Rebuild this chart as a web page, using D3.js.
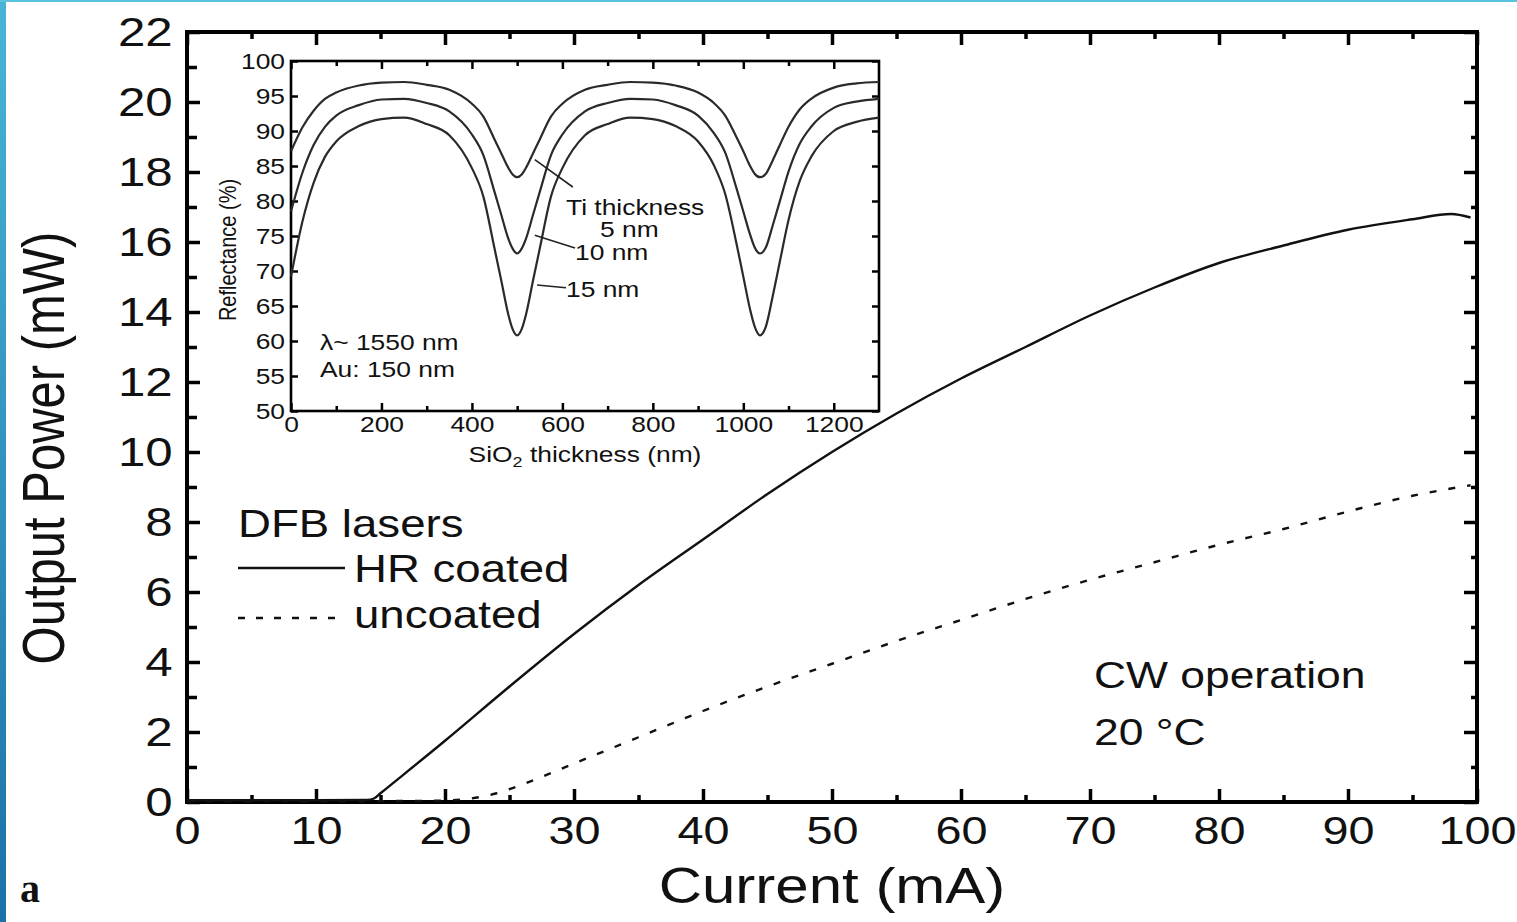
<!DOCTYPE html>
<html>
<head>
<meta charset="utf-8">
<script src="https://cdn.jsdelivr.net/npm/d3@7"></script>
<style>
  body { margin: 0; background: #fff; }
  svg { display: block; font-family: "Liberation Sans", Arial, sans-serif; }
</style>
</head>
<body>
<svg id="chart" width="1517" height="922"></svg>
<script>
// ---- data ----
const hrCurrent = [0, 5, 10, 14, 14.5, 15, 20, 25, 30, 35, 40, 45, 50, 55, 60, 65, 70, 75, 80, 85, 90, 95, 98, 99.5];
const hrPower   = [0.05, 0.05, 0.05, 0.06, 0.1, 0.25, 1.75, 3.3, 4.8, 6.2, 7.5, 8.8, 10.0, 11.1, 12.1, 13.0, 13.9, 14.7, 15.4, 15.9, 16.35, 16.65, 16.8, 16.7];

const ucCurrent = [0, 10, 20, 22, 24, 26, 30, 35, 40, 45, 50, 55, 60, 65, 70, 75, 80, 85, 90, 95, 99.5];
const ucPower   = [0.02, 0.02, 0.04, 0.1, 0.25, 0.5, 1.1, 1.85, 2.6, 3.3, 3.95, 4.6, 5.2, 5.8, 6.35, 6.85, 7.35, 7.8, 8.3, 8.75, 9.05];

// inset: reflectance vs SiO2 thickness for three Ti thicknesses
const sio2 = [0, 25, 50, 75, 100, 150, 200, 250, 300, 350, 400, 425, 450, 465, 480, 490, 500, 510, 520, 535, 550, 575, 600, 650, 700, 750,
              800, 850, 900, 935, 960, 985, 1000, 1015, 1025, 1037, 1050, 1065, 1080, 1100, 1125, 1150, 1200, 1250, 1300];
const refl5 = [87.1, 90.5, 92.9, 94.6, 95.5, 96.5, 96.9, 97.0, 96.6, 95.9, 93.9, 92.1, 88.8, 86.8, 84.8, 83.8, 83.4, 83.8, 84.8, 86.8, 88.8, 92.1, 93.9, 95.9, 96.6, 97.0,
               96.9, 96.5, 95.5, 94.0, 92.2, 89.1, 87.1, 85.0, 83.9, 83.4, 83.9, 85.8, 87.9, 90.6, 93.1, 94.6, 96.2, 96.8, 97.0];
const refl10 = [78.5, 84.0, 88.0, 90.6, 92.2, 93.7, 94.5, 94.6, 94.0, 92.8, 89.5, 86.6, 81.3, 78.0, 74.7, 73.2, 72.5, 73.2, 74.7, 78.0, 81.3, 86.6, 89.5, 92.8, 94.0, 94.6,
                94.5, 93.7, 92.2, 89.7, 86.9, 81.8, 78.5, 75.2, 73.4, 72.5, 73.4, 76.5, 79.8, 84.2, 88.2, 90.6, 93.3, 94.2, 94.6];
const refl15 = [69.2, 77.0, 82.6, 86.3, 88.5, 90.7, 91.7, 91.9, 91.0, 89.4, 84.7, 80.7, 73.2, 68.6, 63.9, 61.7, 60.8, 61.7, 63.9, 68.6, 73.2, 80.7, 84.7, 89.4, 91.0, 91.9,
                91.7, 90.7, 88.5, 85.1, 81.0, 73.9, 69.2, 64.5, 62.1, 60.8, 62.1, 66.4, 71.1, 77.3, 82.9, 86.3, 90.0, 91.3, 91.9];

const xMajor = d3.range(0, 101, 10);
const xMinor = d3.range(5, 100, 10);
const yMajor = d3.range(0, 23, 2);
const yMinor = d3.range(1, 22, 2);
const insetXMajor = d3.range(0, 1201, 200);
const insetXMinor = d3.range(100, 1300, 200);
const insetYMajor = d3.range(50, 101, 5);

const SX = 1.2; // the figure is slightly stretched sideways

const svg = d3.select("#chart");

// blue slide edge
const grad = svg.append("defs").append("linearGradient")
  .attr("id", "edge").attr("x1", 0).attr("y1", 0).attr("x2", 0).attr("y2", 1);
grad.append("stop").attr("offset", "0%").attr("stop-color", "#49b4d8");
grad.append("stop").attr("offset", "100%").attr("stop-color", "#1b72a8");
svg.append("rect").attr("x", 0).attr("y", 0).attr("width", 6).attr("height", 922).attr("fill", "url(#edge)");
svg.append("rect").attr("x", 0).attr("y", 0).attr("width", 1517).attr("height", 2).attr("fill", "#58c2df");

function label(xp, yp, str, size, anchor) {
  return svg.append("text")
    .attr("transform", `translate(${xp},${yp}) scale(${SX},1)`)
    .attr("font-size", size)
    .attr("text-anchor", anchor || "start")
    .attr("fill", "#111")
    .text(str);
}

function styleAxis(g, width, fontSize) {
  g.select(".domain").remove();
  g.selectAll("line").attr("stroke", "#000").attr("stroke-width", width);
  g.selectAll("text")
    .attr("font-family", "'Liberation Sans', Arial, sans-serif")
    .attr("font-size", fontSize)
    .attr("fill", "#111")
    .attr("transform", `scale(${SX},1)`);
}

// ---- main plot ----
const x = d3.scaleLinear().domain([0, 100]).range([187, 1477]);
const y = d3.scaleLinear().domain([0, 22]).range([802, 32]);
const none = () => "";
const plain = d3.format("d");

svg.append("g").attr("transform", `translate(0,${y(0)})`)
  .call(d3.axisBottom(x).tickValues(xMajor).tickFormat(plain).tickSizeInner(-13).tickSizeOuter(0).tickPadding(14))
  .call(g => styleAxis(g, 3.5, 39));
svg.append("g").attr("transform", `translate(0,${y(0)})`)
  .call(d3.axisBottom(x).tickValues(xMinor).tickSizeInner(-7).tickSizeOuter(0).tickFormat(none))
  .call(g => styleAxis(g, 3.5, 39));
svg.append("g").attr("transform", `translate(0,${y(22)})`)
  .call(d3.axisTop(x).tickValues(xMajor).tickSizeInner(-13).tickSizeOuter(0).tickFormat(none))
  .call(g => styleAxis(g, 3.5, 39));
svg.append("g").attr("transform", `translate(0,${y(22)})`)
  .call(d3.axisTop(x).tickValues(xMinor).tickSizeInner(-7).tickSizeOuter(0).tickFormat(none))
  .call(g => styleAxis(g, 3.5, 39));

svg.append("g").attr("transform", `translate(${x(0)},0)`)
  .call(d3.axisLeft(y).tickValues(yMajor).tickFormat(plain).tickSizeInner(-13).tickSizeOuter(0).tickPadding(12))
  .call(g => styleAxis(g, 3.5, 41));
svg.append("g").attr("transform", `translate(${x(0)},0)`)
  .call(d3.axisLeft(y).tickValues(yMinor).tickSizeInner(-10).tickSizeOuter(0).tickFormat(none))
  .call(g => styleAxis(g, 3.5, 41));
svg.append("g").attr("transform", `translate(${x(100)},0)`)
  .call(d3.axisRight(y).tickValues(yMajor).tickSizeInner(-13).tickSizeOuter(0).tickFormat(none))
  .call(g => styleAxis(g, 3.5, 41));
svg.append("g").attr("transform", `translate(${x(100)},0)`)
  .call(d3.axisRight(y).tickValues(yMinor).tickSizeInner(-6).tickSizeOuter(0).tickFormat(none))
  .call(g => styleAxis(g, 3.5, 41));

svg.append("rect")
  .attr("x", x(0)).attr("y", y(22))
  .attr("width", x(100) - x(0)).attr("height", y(0) - y(22))
  .attr("fill", "none").attr("stroke", "#000").attr("stroke-width", 4);

const line = d3.line().x(d => x(d[0])).y(d => y(d[1])).curve(d3.curveMonotoneX);

svg.append("path").datum(d3.zip(hrCurrent, hrPower))
  .attr("fill", "none").attr("stroke", "#111").attr("stroke-width", 2.4)
  .attr("d", line);
svg.append("path").datum(d3.zip(ucCurrent, ucPower))
  .attr("fill", "none").attr("stroke", "#111").attr("stroke-width", 2.4)
  .attr("stroke-dasharray", "7,12")
  .attr("d", line);

// axis titles
label(832, 903, "Current (mA)", 50, "middle");
svg.append("text")
  .attr("transform", `translate(64,448) scale(${SX},1) rotate(-90)`)
  .attr("font-size", 49).attr("text-anchor", "middle").attr("fill", "#111")
  .text("Output Power (mW)");

// legend
label(238, 537, "DFB lasers", 38);
svg.append("line").attr("x1", 238).attr("x2", 345).attr("y1", 568).attr("y2", 568)
  .attr("stroke", "#111").attr("stroke-width", 2.4);
label(354, 582, "HR coated", 38);
svg.append("line").attr("x1", 238).attr("x2", 345).attr("y1", 618).attr("y2", 618)
  .attr("stroke", "#111").attr("stroke-width", 2.4).attr("stroke-dasharray", "7,11");
label(354, 628, "uncoated", 38);

label(1094, 688, "CW operation", 37);
label(1094, 745, "20 °C", 37);

svg.append("text").attr("x", 20).attr("y", 902)
  .attr("font-family", "'Liberation Serif', 'Times New Roman', serif")
  .attr("font-weight", "bold").attr("font-size", 40).attr("fill", "#111")
  .text("a");

// ---- inset ----
const xi = d3.scaleLinear().domain([0, 1300]).range([291, 879]);
const yi = d3.scaleLinear().domain([50, 100]).range([411, 61]);

svg.append("rect")
  .attr("x", xi(0)).attr("y", yi(100))
  .attr("width", xi(1300) - xi(0)).attr("height", yi(50) - yi(100))
  .attr("fill", "#fff");

svg.append("g").attr("transform", `translate(0,${yi(50)})`)
  .call(d3.axisBottom(xi).tickValues(insetXMajor).tickFormat(plain).tickSizeInner(-8).tickSizeOuter(0).tickPadding(5))
  .call(g => styleAxis(g, 2.5, 22));
svg.append("g").attr("transform", `translate(0,${yi(50)})`)
  .call(d3.axisBottom(xi).tickValues(insetXMinor).tickSizeInner(-5).tickSizeOuter(0).tickFormat(none))
  .call(g => styleAxis(g, 2.5, 22));
svg.append("g").attr("transform", `translate(0,${yi(100)})`)
  .call(d3.axisTop(xi).tickValues(insetXMajor).tickSizeInner(-8).tickSizeOuter(0).tickFormat(none))
  .call(g => styleAxis(g, 2.5, 22));
svg.append("g").attr("transform", `translate(0,${yi(100)})`)
  .call(d3.axisTop(xi).tickValues(insetXMinor).tickSizeInner(-5).tickSizeOuter(0).tickFormat(none))
  .call(g => styleAxis(g, 2.5, 22));
svg.append("g").attr("transform", `translate(${xi(0)},0)`)
  .call(d3.axisLeft(yi).tickValues(insetYMajor).tickFormat(plain).tickSizeInner(-7).tickSizeOuter(0).tickPadding(5))
  .call(g => styleAxis(g, 2.5, 22));
svg.append("g").attr("transform", `translate(${xi(1300)},0)`)
  .call(d3.axisRight(yi).tickValues(insetYMajor).tickSizeInner(-7).tickSizeOuter(0).tickFormat(none))
  .call(g => styleAxis(g, 2.5, 22));

svg.append("rect")
  .attr("x", xi(0)).attr("y", yi(100))
  .attr("width", xi(1300) - xi(0)).attr("height", yi(50) - yi(100))
  .attr("fill", "none").attr("stroke", "#000").attr("stroke-width", 2.6);

const insetLine = d3.line().x(d => xi(d[0])).y(d => yi(d[1])).curve(d3.curveMonotoneX);
[refl5, refl10, refl15].forEach(r => {
  svg.append("path").datum(d3.zip(sio2, r))
    .attr("fill", "none").attr("stroke", "#2a2a2a").attr("stroke-width", 2.2)
    .attr("d", insetLine);
});

// leader lines for curve labels (in data units)
const leaders = [
  [[539, 85.9], [623, 82.0]],
  [[539, 75.1], [628, 73.3]],
  [[544, 68.0], [608, 67.6]]
];
leaders.forEach(l => {
  svg.append("line")
    .attr("x1", xi(l[0][0])).attr("y1", yi(l[0][1]))
    .attr("x2", xi(l[1][0])).attr("y2", yi(l[1][1]))
    .attr("stroke", "#222").attr("stroke-width", 1.6);
});

label(566, 215, "Ti thickness", 22);
label(600, 237, "5 nm", 22);
label(575, 260, "10 nm", 22);
label(566, 297, "15 nm", 22);
label(320, 350, "λ~ 1550 nm", 22);
label(320, 377, "Au: 150 nm", 22);

svg.append("text")
  .attr("transform", `translate(236,250) scale(${SX},1) rotate(-90)`)
  .attr("font-size", 20).attr("text-anchor", "middle").attr("fill", "#111")
  .text("Reflectance (%)");

const sioTitle = svg.append("text")
  .attr("transform", `translate(585,462) scale(${SX},1)`)
  .attr("font-size", 22).attr("text-anchor", "middle").attr("fill", "#111");
sioTitle.append("tspan").text("SiO");
sioTitle.append("tspan").attr("font-size", 15).attr("dy", 5).text("2");
sioTitle.append("tspan").attr("dy", -5).text(" thickness (nm)");
</script>
</body>
</html>
